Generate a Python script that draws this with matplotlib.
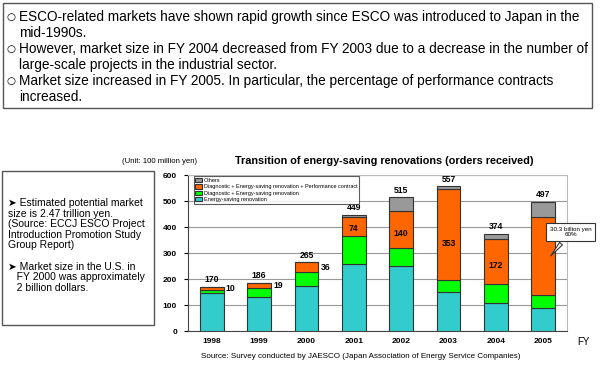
import numpy as np
import matplotlib
matplotlib.use('Agg')
import matplotlib.pyplot as plt
from matplotlib.patches import Rectangle

plt.rcParams['font.family'] = ['Liberation Sans', 'DejaVu Sans']

# データ (単位: 1億円)
years = ['1998', '1999', '2000', '2001', '2002', '2003', '2004', '2005']
energy_saving = [146, 131, 174, 260, 251, 150, 109, 88]
diagnostic = [13, 36, 55, 105, 71, 46, 74, 50]
performance = [10, 19, 36, 74, 140, 353, 172, 303]
others = [1, 0, 0, 10, 53, 8, 19, 56]
totals = [170, 186, 265, 449, 515, 557, 374, 497]
perf_inside = [False, False, False, True, True, True, True, False]

series_names = ['Energy-saving renovation',
                'Diagnostic + Energy-saving renovation',
                'Diagnostic + Energy-saving renovation + Performance contract',
                'Others']
colors = ['#33CCCC', '#00FF00', '#FF6600', '#999999']

top_lines = [
    ('\u25CB', 'ESCO-related markets have shown rapid growth since ESCO was introduced to Japan in the'),
    ('', 'mid-1990s.'),
    ('\u25CB', 'However, market size in FY 2004 decreased from FY 2003 due to a decrease in the number of'),
    ('', 'large-scale projects in the industrial sector.'),
    ('\u25CB', 'Market size increased in FY 2005. In particular, the percentage of performance contracts'),
    ('', 'increased.'),
]
left_lines = [
    '\u27A4 Estimated potential market',
    'size is 2.47 trillion yen.',
    '(Source: ECCJ ESCO Project',
    'Introduction Promotion Study',
    'Group Report)',
    '',
    '\u27A4 Market size in the U.S. in',
    '   FY 2000 was approximately',
    '   2 billion dollars.',
]

W, H = 600, 365
fig = plt.figure(figsize=(6, 3.65), dpi=100)


def px(x, y):
    # ピクセル座標 -> figure座標
    return x / W, 1 - y / H


# 上のテキストボックス
x0, y0 = px(3, 108)
fig.patches.append(Rectangle((x0, y0), 589 / W, 105 / H, transform=fig.transFigure,
                             fill=False, ec='#555555', lw=1))
for i, (b, t) in enumerate(top_lines):
    yy = 17 + i * 16
    if b:
        fig.text(*px(6, yy), b, fontsize=7.5, family='DejaVu Sans', va='center', ha='left')
    fig.text(*px(19, yy), t, fontsize=9.8, va='center', ha='left')

# 左のテキストボックス
x0, y0 = px(2, 325)
fig.patches.append(Rectangle((x0, y0), 152 / W, 154 / H, transform=fig.transFigure,
                             fill=False, ec='#555555', lw=1))
for i, t in enumerate(left_lines):
    fig.text(*px(8, 203 + i * 10.6), t, fontsize=7.5, va='center', ha='left')

# グラフ
ax = fig.add_axes([188 / W, 1 - 331.3 / H, 379 / W, 156 / H])
x = np.arange(len(years))
bottom = np.zeros(len(years))
for vals, name, c in zip([energy_saving, diagnostic, performance, others], series_names, colors):
    ax.bar(x, vals, 0.5, bottom=bottom, color=c, edgecolor='#333333', linewidth=0.8,
           label=name, zorder=3)
    bottom += np.array(vals)

for i in range(len(years)):
    ax.annotate(str(totals[i]), (x[i], totals[i]), xytext=(0, 2), textcoords='offset points',
                ha='center', va='bottom', fontsize=6.2, fontweight='bold')
    base = energy_saving[i] + diagnostic[i]
    if perf_inside[i]:
        ax.text(x[i], base + performance[i] * 0.4, str(performance[i]), ha='center',
                va='center', fontsize=6.2, fontweight='bold')
    elif i < 3:
        ax.text(x[i] + 0.3, base + performance[i] / 2, str(performance[i]), ha='left',
                va='center', fontsize=6.2, fontweight='bold')

# 2005年の吹き出し
ax.annotate('30.3 billion yen\n60%', xy=(7.12, 282), xytext=(7.58, 382),
            ha='center', va='center', fontsize=4.5, annotation_clip=False, zorder=5,
            bbox=dict(boxstyle='square,pad=0.6', fc='white', ec='#333333', lw=0.8),
            arrowprops=dict(arrowstyle='wedge,tail_width=0.6,shrink_factor=0.5',
                            fc='white', ec='#333333', lw=0.8))

ax.set_xlim(-0.5, 7.5)
ax.set_ylim(0, 600)
ax.set_yticks(range(0, 700, 100))
ax.set_xticks(x)
ax.set_xticklabels(years, fontsize=6, fontweight='bold')
ax.set_yticklabels([str(v) for v in range(0, 700, 100)], fontsize=6, fontweight='bold')
ax.tick_params(axis='x', length=0, pad=5)
ax.tick_params(axis='y', length=3, pad=5)
ax.yaxis.grid(True, color='#999999', lw=0.8, zorder=0)
for s in ['top', 'right']:
    ax.spines[s].set_color('#bbbbbb')
for s in ['left', 'bottom']:
    ax.spines[s].set_color('#444444')

h, l = ax.get_legend_handles_labels()
leg = ax.legend(h[::-1], l[::-1], loc='upper left', bbox_to_anchor=(0.008, 1.012),
                fontsize=4, frameon=True, fancybox=False, edgecolor='#333333',
                handlelength=1.2, handleheight=0.8, labelspacing=0.25, borderpad=0.3,
                handletextpad=0.3)
leg.get_frame().set_linewidth(0.8)

fig.text(*px(384, 161), 'Transition of energy-saving renovations (orders received)',
         fontsize=7.8, fontweight='bold', ha='center', va='center')
fig.text(*px(197, 161), '(Unit: 100 million yen)', fontsize=5.6, ha='right', va='center')
fig.text(*px(577, 342), 'FY', fontsize=7, ha='left', va='center')
fig.text(*px(201, 356), 'Source: Survey conducted by JAESCO (Japan Association of Energy Service Companies)',
         fontsize=5.8, ha='left', va='center')

plt.savefig('out.png', dpi=100)
